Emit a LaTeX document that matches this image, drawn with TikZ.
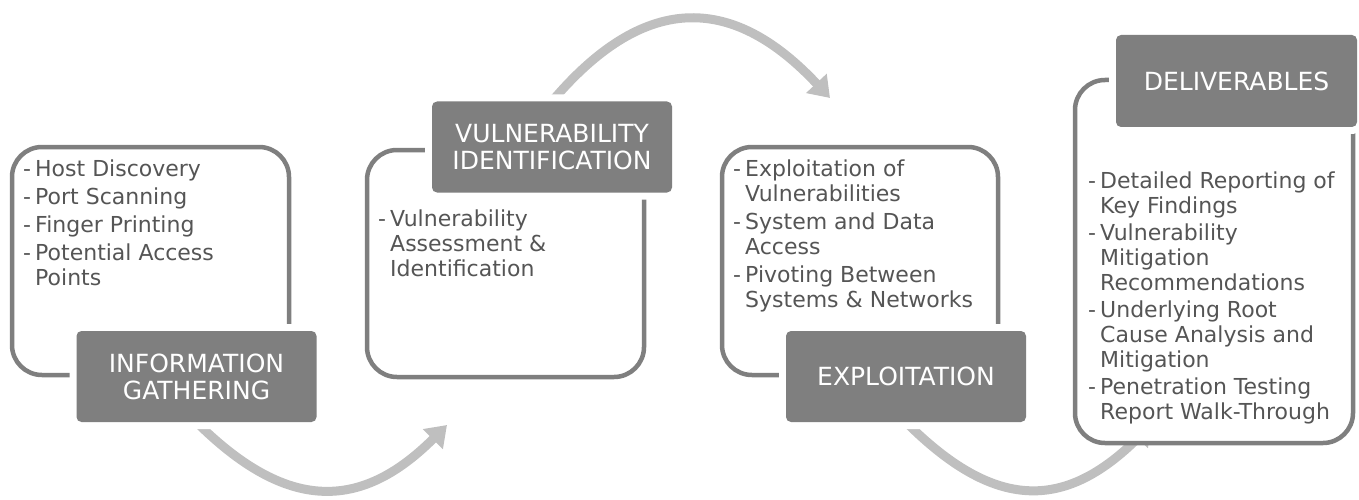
\documentclass[tikz,border=0pt]{standalone}
\usepackage{fontspec}
\setmainfont{DejaVu Sans}
\usetikzlibrary{arrows.meta, backgrounds}

\definecolor{stagegray}{HTML}{7F7F7F}
\definecolor{loopgray}{HTML}{BFBFBF}
\definecolor{notegray}{HTML}{555555}

% bullet dash and hanging indent for the item lists
\newcommand{\dashitem}{\makebox[12pt][l]{-}}
\newcommand{\indentitem}{\hspace*{12pt}}

\begin{document}
\begin{tikzpicture}[
        x=1pt, y=-1pt,
        stage/.style={rectangle, rounded corners=5pt, fill=stagegray, text=white,
            minimum width=240pt, minimum height=91pt, align=center,
            font=\fontsize{25}{27}\selectfont,
            preaction={draw=white, line width=14pt}},
        panel/.style={draw=stagegray, line width=4.5pt, rounded corners=30pt, fill=white},
        notes/.style={anchor=north west, inner sep=0pt, align=left, text=notegray,
            font=\fontsize{22}{25}\selectfont},
        loop/.style={draw=loopgray, line width=9pt,
            -{Triangle[width=27pt, length=20pt]}}
    ]
        \useasboundingbox (0,0) rectangle (1359,500);

        % Các khung viền
        \draw[panel] (12,147) rectangle (289,375);
        \draw[panel] (367,150) rectangle (644,377);
        \draw[panel] (722,147) rectangle (998,375);
        \draw[panel] (1075,80) rectangle (1353,443);

        % Các bước
        \node[stage] (ig) at (196.5,376.5) {INFORMATION\\GATHERING};
        \node[stage] (vi) at (552,147) {VULNERABILITY\\IDENTIFICATION};
        \node[stage] (ex) at (906,376.5) {EXPLOITATION};
        \node[stage, minimum width=241pt, minimum height=92pt] (dl) at (1236.5,81) {DELIVERABLES};

        % Mũi tên nối các bước (nằm dưới khung)
        \coordinate (viin) at (447,425);
        \coordinate (exin) at (830,98);
        \coordinate (dlin) at (1152,424);
        \begin{pgfonlayer}{background}
            \draw[loop] (ig.south) .. controls (285,510) and (359,513) .. (viin);
            \draw[loop] (vi.north) .. controls (642,-5) and (730,-9) .. (exin);
            \draw[loop] (ex.south) .. controls (994,510) and (1064,512) .. (dlin);
        \end{pgfonlayer}

        % Nội dung từng bước
        \node[notes] (igl) at (23,159.5) {\dashitem Host Discovery\\[3pt]
            \dashitem Port Scanning\\[3pt]
            \dashitem Finger Printing\\[3pt]
            \dashitem Potential Access\\
            \indentitem Points};
        \node[notes] (vil) at (378,209.5) {\dashitem Vulnerability\\
            \indentitem Assessment \&\\
            \indentitem Identification};
        \node[notes] (exl) at (733,159.5) {\dashitem Exploitation of\\
            \indentitem Vulnerabilities\\[3pt]
            \dashitem System and Data\\
            \indentitem Access\\[3pt]
            \dashitem Pivoting Between\\
            \indentitem Systems \& Networks};
        \node[notes] (dll) at (1088,171.5) {\dashitem Detailed Reporting of\\
            \indentitem Key Findings\\[2pt]
            \dashitem Vulnerability\\
            \indentitem Mitigation\\
            \indentitem Recommendations\\[2pt]
            \dashitem Underlying Root\\
            \indentitem Cause Analysis and\\
            \indentitem Mitigation\\[2pt]
            \dashitem Penetration Testing\\
            \indentitem Report Walk-Through};
    \end{tikzpicture}
\end{document}
